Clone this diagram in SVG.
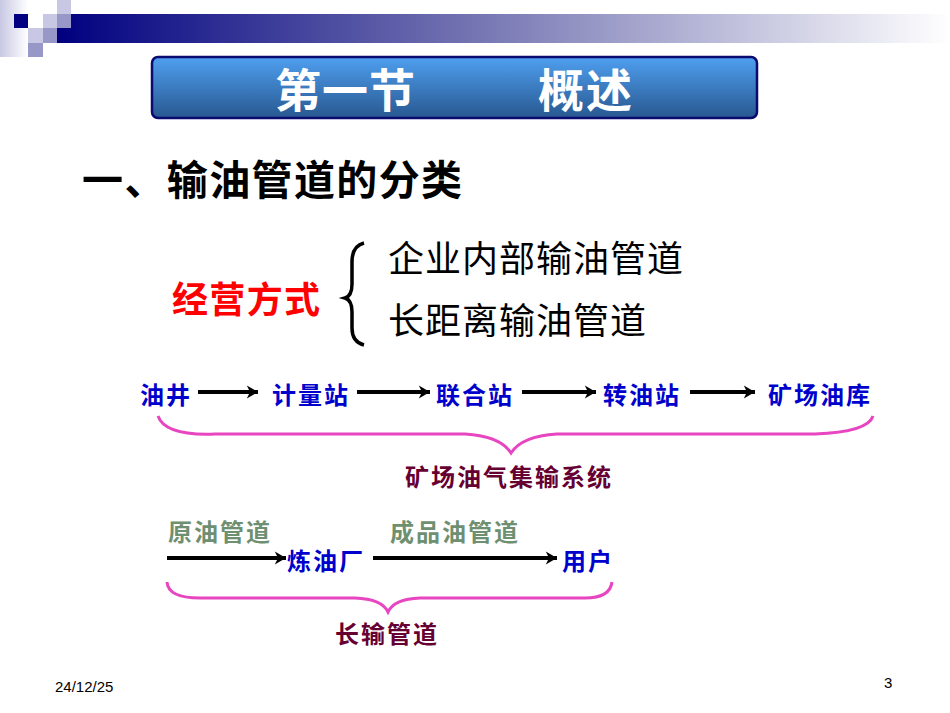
<svg xmlns="http://www.w3.org/2000/svg" width="950" height="713" viewBox="0 0 950 713">
<defs>
<linearGradient id="bar" x1="0" y1="0" x2="1" y2="0">
<stop offset="0" stop-color="#000080"/>
<stop offset="0.45" stop-color="#7070b0"/>
<stop offset="1" stop-color="#ffffff"/>
</linearGradient>
<linearGradient id="fade" x1="0" y1="0" x2="1" y2="0">
<stop offset="0" stop-color="#c8c8e4"/>
<stop offset="1" stop-color="#ffffff"/>
</linearGradient>
<linearGradient id="title" x1="0" y1="0" x2="0" y2="1">
<stop offset="0" stop-color="#4f9ff0"/>
<stop offset="1" stop-color="#285890"/>
</linearGradient>
<marker id="ah" viewBox="0 0 10 10" refX="8" refY="5" markerWidth="4" markerHeight="4" orient="auto" markerUnits="strokeWidth">
<path d="M1,1 L8,5 L1,9 L3,5 Z" fill="#000"/>
</marker>
<style>
.cjk{font-family:"Noto Sans CJK SC","Noto Sans",sans-serif}
.flow{font-family:"Noto Sans CJK SC",sans-serif;font-size:24px;font-weight:bold;fill:#0000cc;letter-spacing:2px}
.lab{font-family:"Noto Sans CJK SC",sans-serif;font-size:24px;font-weight:bold;fill:#660033;letter-spacing:2px}
.grn{font-family:"Noto Sans CJK SC",sans-serif;font-size:24px;font-weight:bold;fill:#6e9070;letter-spacing:2px}
.arr{stroke:#000;stroke-width:4;fill:none;marker-end:url(#ah)}
.brace{stroke:#e845c0;stroke-width:3;fill:none}
</style>
</defs>
<g id="header">
<rect x="0" y="0" width="28" height="57" fill="url(#fade)"/>
<rect x="57" y="14" width="893" height="29" fill="url(#bar)"/>
<rect x="57" y="0" width="14" height="14" fill="#c8c8e4"/>
<rect x="14" y="14" width="14" height="14" fill="#000080"/>
<rect x="28" y="14" width="15" height="14" fill="#ffffff"/>
<rect x="43" y="14" width="14" height="14" fill="#c8c8e4"/>
<rect x="57" y="14" width="14" height="14" fill="#9898c8"/>
<rect x="28" y="28" width="15" height="15" fill="#c8c8e4"/>
<rect x="43" y="28" width="14" height="15" fill="#9898c8"/>
<rect x="28" y="43" width="15" height="14" fill="#9898c8"/>
</g>
<g id="title-box">
<rect x="152" y="57" width="605" height="61" rx="6" fill="url(#title)" stroke="#0a0a70" stroke-width="2.5"/>
<text x="275" y="107" class="cjk" font-size="46" font-weight="bold" fill="#fff" textLength="140">第一节</text>
<text x="538" y="107" class="cjk" font-size="46" font-weight="bold" fill="#fff" textLength="94">概述</text>
</g>
<g id="heading">
<text x="82" y="195" class="cjk" font-size="41" font-weight="bold" fill="#000" textLength="380">一、输油管道的分类</text>
</g>
<g id="mode">
<text x="172" y="313" class="cjk" font-size="36" font-weight="bold" fill="#ff0000" textLength="148">经营方式</text>
<path d="M364,243 Q352,246 352,262 L352,284 Q352,296 345,298 Q352,300 352,312 L352,328 Q352,342 364,345" stroke="#000" stroke-width="3.5" fill="none"/>
<text x="388" y="272" class="cjk" font-size="36" fill="#000" textLength="295">企业内部输油管道</text>
<text x="388" y="334" class="cjk" font-size="36" fill="#000" textLength="258">长距离输油管道</text>
</g>
<g id="connectors">
<line x1="198" y1="392" x2="258" y2="392" class="arr"/>
<line x1="357" y1="392" x2="430" y2="392" class="arr"/>
<line x1="522" y1="392" x2="596" y2="392" class="arr"/>
<line x1="690" y1="392" x2="755" y2="392" class="arr"/>
<line x1="167" y1="558" x2="286" y2="558" class="arr"/>
<line x1="373" y1="558" x2="557" y2="558" class="arr"/>
<path class="brace" d="M158,416 Q165,436 215,434 L465,434 Q500,436 511,453 Q522,436 557,434 L815,434 Q868,432 873,416"/>
<path class="brace" d="M167,582 Q168,598 200,598 L355,598 Q382,599 388,612 Q394,599 420,598 L585,598 Q610,598 612,582"/>
</g>
<g id="n-youjing"><text x="140" y="404" class="flow">油井</text></g>
<g id="n-jiliang"><text x="272" y="404" class="flow">计量站</text></g>
<g id="n-lianhe"><text x="436" y="404" class="flow">联合站</text></g>
<g id="n-zhuanyou"><text x="603" y="404" class="flow">转油站</text></g>
<g id="n-kuchang"><text x="768" y="404" class="flow">矿场油库</text></g>
<g id="l-jishu"><text x="405" y="486" class="lab">矿场油气集输系统</text></g>
<g id="l-yuanyou"><text x="168" y="541" class="grn">原油管道</text></g>
<g id="l-chengpin"><text x="390" y="541" class="grn">成品油管道</text></g>
<g id="n-lianyou"><text x="287" y="570" class="flow">炼油厂</text></g>
<g id="n-yonghu"><text x="562" y="570" class="flow">用户</text></g>
<g id="l-changshu"><text x="335" y="643" class="lab">长输管道</text></g>
<g id="footer">
<text x="55" y="692" font-family="Liberation Sans,sans-serif" font-size="15" fill="#000">24/12/25</text>
<text x="884" y="688" font-family="Liberation Sans,sans-serif" font-size="15" fill="#000">3</text>
</g>
</svg>
